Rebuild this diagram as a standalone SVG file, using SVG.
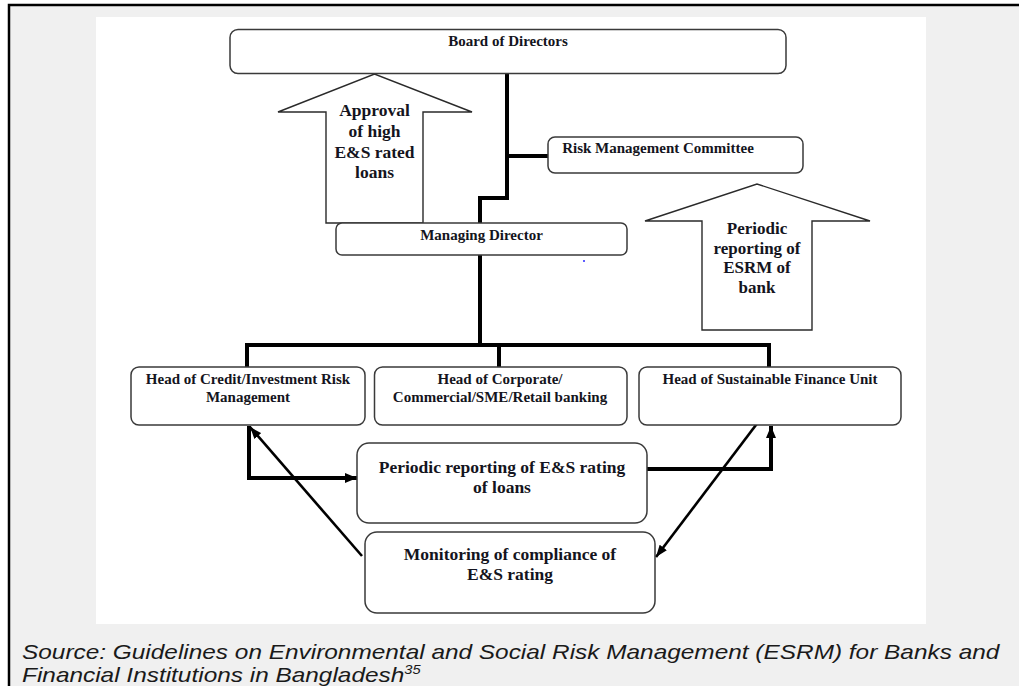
<svg xmlns="http://www.w3.org/2000/svg" width="1019" height="686" viewBox="0 0 1019 686">
  <style>
    .box { fill: #ffffff; stroke: #3a3a3a; stroke-width: 1.5; }
    .bigarrow { fill: #ffffff; stroke: #2a2a2a; stroke-width: 1.4; stroke-linejoin: miter; }
    .org { fill: none; stroke: #000000; stroke-width: 4; stroke-linejoin: miter; }
    .flow { fill: none; stroke: #000000; stroke-width: 4; stroke-linejoin: miter; }
    .diag { fill: none; stroke: #000000; stroke-width: 2.6; }
    .t15 { font-family: "Liberation Serif", "Times New Roman", serif; font-weight: bold; font-size: 15px; fill: #141420; text-anchor: middle; }
    .t17 { font-family: "Liberation Serif", "Times New Roman", serif; font-weight: bold; font-size: 17.5px; fill: #141420; text-anchor: middle; }
    .t17s { font-family: "Liberation Serif", "Times New Roman", serif; font-weight: bold; font-size: 17px; fill: #141420; text-anchor: middle; }
    .cap { font-family: "Liberation Sans", Arial, sans-serif; font-style: italic; font-size: 20px; fill: #1a1a1a; }
  </style>
  <defs>
    <marker id="headThick" viewBox="0 0 12 10" refX="12" refY="5" markerWidth="12" markerHeight="10" markerUnits="userSpaceOnUse" orient="auto-start-reverse">
      <path d="M0,0 L12,5 L0,10 Z" fill="#000"/>
    </marker>
    <marker id="headThin" viewBox="0 0 12 9" refX="12" refY="4.5" markerWidth="12" markerHeight="9" markerUnits="userSpaceOnUse" orient="auto-start-reverse">
      <path d="M0,0 L12,4.5 L0,9 Z" fill="#000"/>
    </marker>
  </defs>

  <!-- page frame and figure panel -->
  <rect x="0" y="0" width="1019" height="686" fill="#ffffff"/>
  <rect x="9" y="5" width="1010" height="681" fill="#f0f0f0"/>
  <path d="M9,686 V5 H1019" fill="none" stroke="#000" stroke-width="2.5"/>
  <rect x="96" y="17" width="830" height="607" fill="#ffffff"/>

  <!-- block arrows -->
  <g id="arrow-approval">
    <polygon class="bigarrow" points="326,223 326,112 278,112 374.5,74 472,112 423,112 423,223"/>
    <text class="t17" x="374.5" y="116">Approval</text>
    <text class="t17" x="374.5" y="137">of high</text>
    <text class="t17" x="374.5" y="157.5">E&amp;S rated</text>
    <text class="t17" x="374.5" y="178">loans</text>
  </g>
  <g id="arrow-esrm">
    <polygon class="bigarrow" points="702,330 702,221 645,221 757,184 870,221 812,221 812,330"/>
    <text class="t17s" x="757" y="234">Periodic</text>
    <text class="t17s" x="757" y="253.5">reporting of</text>
    <text class="t17s" x="757" y="273">ESRM of</text>
    <text class="t17s" x="757" y="292.5">bank</text>
  </g>

  <!-- connectors -->
  <g id="connectors">
    <path class="org" d="M507,74 V198 H480 V223"/>
    <path class="org" d="M507,156 H548"/>
    <path class="org" d="M480,255 V345"/>
    <path class="org" d="M247,367 V345 H769 V367"/>
    <path class="org" d="M499,345 V367"/>
    <path class="flow" d="M249,426 V478 H357" marker-end="url(#headThick)"/>
    <path class="flow" d="M647,469 H771 V426" marker-end="url(#headThick)"/>
    <path class="diag" d="M362,556 L250,427" marker-end="url(#headThin)"/>
    <path class="diag" d="M656,557 L765,413" marker-start="url(#headThin)" marker-end="url(#headThin)"/>
  </g>

  <!-- nodes -->
  <g id="board">
    <rect class="box" x="230" y="29.5" width="556" height="44" rx="8"/>
    <text class="t15" x="508" y="46">Board of Directors</text>
  </g>
  <g id="risk-committee">
    <rect class="box" x="548" y="137" width="255" height="36" rx="7"/>
    <text class="t15" x="658" y="153">Risk Management Committee</text>
  </g>
  <g id="managing-director">
    <rect class="box" x="336" y="223" width="291" height="32" rx="6"/>
    <text class="t15" x="481.5" y="240">Managing Director</text>
  </g>
  <circle cx="584" cy="261" r="1" fill="#2a2aff"/>
  <g id="head-credit">
    <rect class="box" x="131" y="367" width="234" height="58" rx="8"/>
    <text class="t15" x="248" y="384">Head of Credit/Investment Risk</text>
    <text class="t15" x="248" y="402">Management</text>
  </g>
  <g id="head-corporate">
    <rect class="box" x="374.5" y="367" width="252.5" height="58" rx="8"/>
    <text class="t15" x="500" y="384">Head of Corporate/</text>
    <text class="t15" x="500" y="402">Commercial/SME/Retail banking</text>
  </g>
  <g id="head-sustainable">
    <rect class="box" x="639" y="367" width="262" height="58" rx="8"/>
    <text class="t15" x="770" y="384">Head of Sustainable Finance Unit</text>
  </g>
  <g id="periodic-rating">
    <rect class="box" x="357" y="443" width="290" height="80" rx="12"/>
    <text class="t17" x="502" y="473">Periodic reporting of E&amp;S rating</text>
    <text class="t17" x="502" y="493">of loans</text>
  </g>
  <g id="monitoring">
    <rect class="box" x="365" y="532" width="290" height="81" rx="12"/>
    <text class="t17" x="510" y="560">Monitoring of compliance of</text>
    <text class="t17" x="510" y="580">E&amp;S rating</text>
  </g>

  <!-- caption, set slightly wide -->
  <g transform="translate(22,0) scale(1.22,1)">
    <text class="cap" x="0" y="659">Source: Guidelines on Environmental and Social Risk Management (ESRM) for Banks and</text>
    <text class="cap" x="0" y="682">Financial Institutions in Bangladesh<tspan font-size="12" dy="-8">35</tspan></text>
  </g>
</svg>
